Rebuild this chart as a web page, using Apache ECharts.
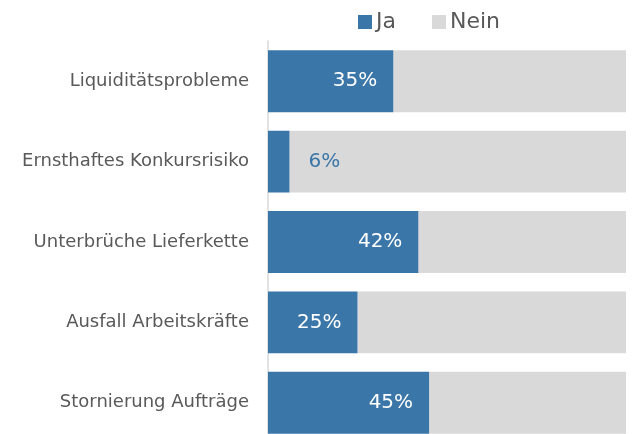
<!DOCTYPE html>
<html>
<head>
<meta charset="utf-8">
<script src="https://cdn.jsdelivr.net/npm/echarts@6/dist/echarts.min.js"></script>
<style>
  html, body { margin: 0; padding: 0; background: #fff; }
</style>
</head>
<body>
<!-- Diagramm-Container -->
<div id="myChart" style="width: 632px; height: 434px;"></div>
<script>
// Kategorien (von oben nach unten)
var categories = ['Liquiditätsprobleme', 'Ernsthaftes Konkursrisiko', 'Unterbrüche Lieferkette', 'Ausfall Arbeitskräfte', 'Stornierung Aufträge'];
// Anteil "Ja" in Prozent
var jaValues = [35, 6, 42, 25, 45];
// Anteil "Nein" in Prozent
var neinValues = [65, 94, 58, 75, 55];

var fontFamily = 'DejaVu Sans, Verdana, sans-serif';
var blue = '#3a76a8';

var myChart = echarts.init(document.getElementById('myChart'));

var option = {
  animation: false,
  legend: {
    data: ['Ja', 'Nein'],
    top: 6,
    left: 353,
    itemWidth: 14,
    itemHeight: 14,
    itemGap: 36,
    icon: 'rect',
    textStyle: {
      fontFamily: fontFamily,
      fontSize: 22,
      color: '#595959',
      padding: [0, 0, 0, -1],
    },
  },
  grid: {
    left: 268,
    right: 6,
    top: 41,
    height: 402,
    containLabel: false,
    outerBoundsMode: 'none',
  },
  xAxis: {
    type: 'value',
    min: 0,
    max: 100,
    show: false,
  },
  yAxis: {
    type: 'category',
    inverse: true,
    data: categories,
    axisLine: { show: true, lineStyle: { color: '#d9d9d9', width: 1.5 } },
    axisTick: { show: false },
    axisLabel: {
      margin: 19,
      fontFamily: fontFamily,
      fontSize: 18,
      color: '#595959',
    },
  },
  series: [
    {
      name: 'Ja',
      type: 'bar',
      stack: 'total',
      barCategoryGap: '23%',
      itemStyle: { color: blue },
      label: {
        show: true,
        position: 'insideRight',
        distance: 16,
        formatter: '{c}%',
        color: '#ffffff',
        fontFamily: fontFamily,
        fontSize: 20,
      },
      data: jaValues.map(function (v) {
        if (v < 10) {
          // kleiner Wert: Beschriftung rechts neben dem Balken
          return { value: v, label: { position: 'right', distance: 19, color: blue } };
        }
        return v;
      }),
      z: 3,
    },
    {
      name: 'Nein',
      type: 'bar',
      stack: 'total',
      barCategoryGap: '23%',
      itemStyle: { color: '#d9d9d9' },
      data: neinValues,
      z: 2,
    },
  ],
};

option && myChart.setOption(option);
</script>
</body>
</html>
